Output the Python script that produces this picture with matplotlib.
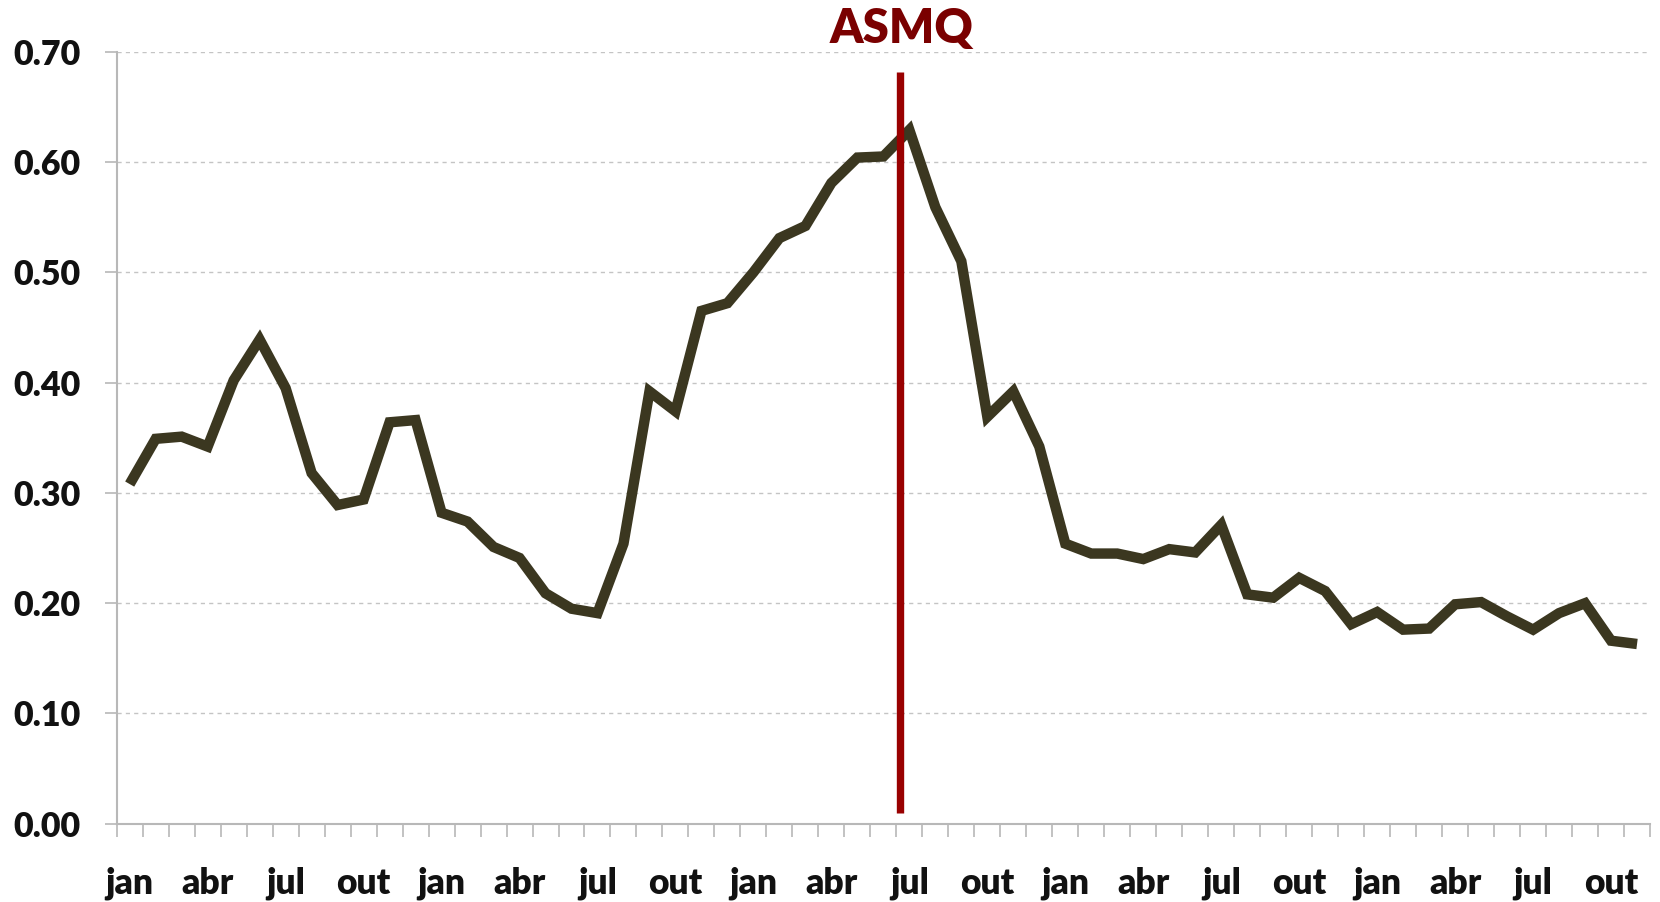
import matplotlib
matplotlib.use("Agg")
import matplotlib.pyplot as plt
from matplotlib.ticker import FixedLocator
import numpy as np

plt.rcParams['font.family'] = ['Lato', 'DejaVu Sans']

# ---- data ----
month_labels = ["jan", "abr", "jul", "out"] * 5
values = [0.308, 0.349, 0.351, 0.342, 0.402, 0.439, 0.395, 0.318, 0.289, 0.294,
          0.364, 0.366, 0.282, 0.274, 0.251, 0.241, 0.209, 0.195, 0.191, 0.254,
          0.392, 0.374, 0.465, 0.472, 0.500, 0.531, 0.542, 0.581, 0.604, 0.605,
          0.629, 0.559, 0.510, 0.369, 0.392, 0.342, 0.254, 0.245, 0.245, 0.240,
          0.249, 0.246, 0.271, 0.208, 0.205, 0.223, 0.211, 0.181, 0.192, 0.176,
          0.177, 0.199, 0.201, 0.188, 0.176, 0.191, 0.200, 0.166, 0.163]
y_ticks = [0.0, 0.1, 0.2, 0.3, 0.4, 0.5, 0.6, 0.7]
event_label = "ASMQ"
event_x = 29.65
event_y = (0.01, 0.682)

n = len(values)
x = np.arange(n)

fig = plt.figure(figsize=(16.6, 9.02), dpi=100)
ax = fig.add_axes([0.0703, 0.0867, 0.9237, 0.856])

ax.plot(x, values, color="#3b3720", lw=7.5, solid_joinstyle="miter", solid_capstyle="butt", zorder=3)
ax.vlines(event_x, event_y[0], event_y[1], color="#990000", lw=5.3, zorder=4)
ax.text(event_x + 0.05, 0.708, event_label, ha="center", va="baseline", color="#7a0000",
        fontsize=34, fontweight="heavy", zorder=5, clip_on=False)

ax.set_xlim(-0.5, n - 0.5)
ax.set_ylim(0, 0.70)

# y axis
ax.set_yticks(y_ticks)
ax.set_yticklabels([f"{v:.2f}" for v in y_ticks])
for yv in y_ticks[1:]:
    ax.axhline(yv, color="#c4c4c4", lw=1.0, ls=(0, (3, 3)), zorder=1)
ax.tick_params(axis="y", length=9, width=1.2, color="#b8b8b8", pad=17,
               labelsize=24.5)
for lab in ax.get_yticklabels():
    lab.set_fontweight("heavy")
    lab.set_color("#111111")

# x axis
ax.xaxis.set_minor_locator(FixedLocator(np.arange(-0.5, n, 1.0)))
ax.set_xticks(np.arange(0, n, 3))
ax.set_xticklabels(month_labels[:len(range(0, n, 3))])
ax.tick_params(axis="x", which="major", length=0, pad=31, labelsize=25.5)
ax.tick_params(axis="x", which="minor", length=9, width=1.2, color="#b8b8b8")
for lab in ax.get_xticklabels():
    lab.set_fontweight("heavy")
    lab.set_color("#111111")

for s in ["top", "right"]:
    ax.spines[s].set_visible(False)
for s in ["left", "bottom"]:
    ax.spines[s].set_color("#b8b8b8")
    ax.spines[s].set_linewidth(1.5)

fig.savefig("out.png", dpi=100, facecolor="white")
